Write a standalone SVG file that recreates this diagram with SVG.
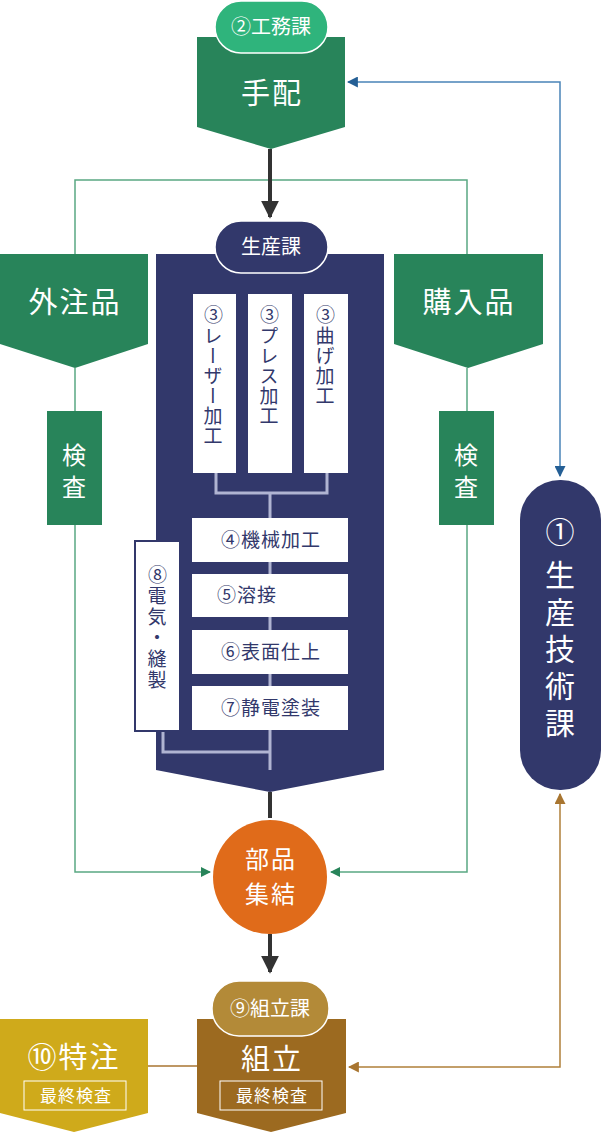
<svg xmlns="http://www.w3.org/2000/svg" width="602" height="1132" viewBox="0 0 602 1132">
<defs>
<style>
text{font-family:"Noto Sans CJK JP","Noto Sans",sans-serif;}
.big{font-size:29px;fill:#fff;text-anchor:middle;letter-spacing:2px}
.bad{font-size:20px;fill:#fff;text-anchor:middle}
.st{font-size:19px;fill:#32386b;text-anchor:middle;letter-spacing:1px}
.gl{fill:none;stroke:#5aa882;stroke-width:1.5}
.ll{fill:none;stroke:#b0b4d2;stroke-width:3}
</style>
<marker id="ag" viewBox="0 0 10 10" refX="9" refY="5" markerWidth="10" markerHeight="10" markerUnits="userSpaceOnUse" orient="auto"><path d="M0,0L10,5L0,10z" fill="#28845a"/></marker>
<marker id="ab" viewBox="0 0 10 10" refX="9" refY="5" markerWidth="11" markerHeight="11" markerUnits="userSpaceOnUse" orient="auto-start-reverse"><path d="M0,0L10,5L0,10z" fill="#245f95"/></marker>
<marker id="ao" viewBox="0 0 10 10" refX="9" refY="5" markerWidth="11" markerHeight="11" markerUnits="userSpaceOnUse" orient="auto-start-reverse"><path d="M0,0L10,5L0,10z" fill="#a87530"/></marker>
<marker id="ak" viewBox="0 0 10 10" refX="9" refY="5" markerWidth="18" markerHeight="18" markerUnits="userSpaceOnUse" orient="auto"><path d="M0,0L10,5L0,10z" fill="#333"/></marker>
</defs>
<g id="connectors">
<path class="gl" d="M75,254V180H467V254"/>
<path class="gl" d="M75,368V872H210" marker-end="url(#ag)"/>
<path class="gl" d="M467,368V872H331" marker-end="url(#ag)"/>
<path d="M560,476V82H348" fill="none" stroke="#4a84b8" stroke-width="1.5" marker-start="url(#ab)" marker-end="url(#ab)"/>
<path d="M560,794V1067H349" fill="none" stroke="#b0803a" stroke-width="1.5" marker-start="url(#ao)" marker-end="url(#ao)"/>
<path d="M270,149V217" stroke="#333" stroke-width="4" marker-end="url(#ak)"/>
<path d="M270,934V972" stroke="#333" stroke-width="4" marker-end="url(#ak)"/>
<path d="M270,792V818" stroke="#333" stroke-width="4"/>
<path d="M148,1066H197" stroke="#a87530" stroke-width="1.5"/>
</g>
<g id="tehai">
<path d="M197,37H345V127L271,149L197,127Z" fill="#28845a"/>
<rect x="215" y="1" width="113" height="52" rx="26" fill="#2fb47c" stroke="#fff" stroke-width="1.5"/>
<text class="bad" x="271" y="34">②工務課</text>
<text class="big" x="272" y="104">手配</text>
</g>
<g id="gaichu">
<path d="M0,254H148V344L75,368L0,344Z" fill="#28845a"/>
<text class="big" x="75" y="313">外注品</text>
</g>
<g id="konyu">
<path d="M394,254H543V344L468,368L394,344Z" fill="#28845a"/>
<text class="big" x="469" y="313">購入品</text>
</g>
<g id="kensa1"><rect x="47" y="411" width="55" height="114" fill="#28845a"/>
<text class="big" style="font-size:24px" x="75" y="464">検</text><text class="big" style="font-size:24px" x="75" y="496">査</text></g>
<g id="kensa2"><rect x="439" y="411" width="55" height="114" fill="#28845a"/>
<text class="big" style="font-size:24px" x="467" y="464">検</text><text class="big" style="font-size:24px" x="467" y="496">査</text></g>
<g id="seisan">
<path d="M156,254H384V770L270,792L156,770Z" fill="#32386b"/>
<path class="ll" d="M216,473V493H327V473M270,493V770M163,731V752H270"/>
<rect x="215" y="221" width="113" height="52" rx="26" fill="#32386b" stroke="#fff" stroke-width="1.5"/>
<text class="bad" x="271" y="254">生産課</text>
</g>
<g id="laser"><rect x="193" y="294" width="43" height="179" fill="#fff"/>
<text class="st" x="214" y="322">③</text>
<text class="st" x="213" y="326" style="writing-mode:vertical-rl;text-anchor:start">レーザー加工</text></g>
<g id="press"><rect x="248" y="294" width="44" height="179" fill="#fff"/>
<text class="st" x="270" y="322">③</text>
<text class="st" x="269" y="326" style="writing-mode:vertical-rl;text-anchor:start">プレス加工</text></g>
<g id="mage"><rect x="304" y="294" width="44" height="179" fill="#fff"/>
<text class="st" x="326" y="322">③</text>
<text class="st" x="325" y="326" style="writing-mode:vertical-rl;text-anchor:start">曲げ加工</text></g>
<g id="kikai"><rect x="192" y="518" width="156" height="44" fill="#fff"/><text class="st" x="271" y="547">④機械加工</text></g>
<g id="yosetsu"><rect x="192" y="574" width="156" height="43" fill="#fff"/><text class="st" x="247" y="602">⑤溶接</text></g>
<g id="hyomen"><rect x="192" y="630" width="156" height="44" fill="#fff"/><text class="st" x="271" y="659">⑥表面仕上</text></g>
<g id="seiden"><rect x="192" y="686" width="156" height="44" fill="#fff"/><text class="st" x="271" y="715">⑦静電塗装</text></g>
<g id="denki"><rect x="135" y="541" width="45" height="190" fill="#fff" stroke="#32386b" stroke-width="2"/>
<text class="st" x="158" y="582">⑧</text>
<text class="st" x="157" y="586" style="writing-mode:vertical-rl;text-anchor:start;letter-spacing:2px">電気・縫製</text></g>
<g id="shuketsu"><circle cx="270" cy="877" r="57" fill="#e06b1a"/>
<text class="big" style="font-size:24px" x="271" y="868">部品</text><text class="big" style="font-size:24px" x="271" y="903">集結</text></g>
<g id="gijutsu"><rect x="520" y="480" width="81" height="310" rx="40" fill="#32386b"/>
<text class="big" x="561" y="543">①</text>
<text class="big" x="560" y="560" style="writing-mode:vertical-rl;text-anchor:start;font-size:30px;letter-spacing:7px">生産技術課</text></g>
<g id="kumitate">
<path d="M197,1019H346V1113L271,1132L197,1113Z" fill="#9c6a20"/>
<rect x="212" y="981" width="117" height="55" rx="27" fill="#b38a38" stroke="#fff" stroke-width="1.5"/>
<text class="bad" x="270" y="1016">⑨組立課</text>
<text class="big" x="272" y="1070">組立</text>
<rect x="220" y="1081" width="102" height="29" fill="none" stroke="#fff" stroke-width="1"/>
<text class="bad" style="font-size:17px;letter-spacing:1px" x="272" y="1102">最終検査</text>
</g>
<g id="tokuchu">
<path d="M0,1019H148V1113L74,1132L0,1113Z" fill="#cfaa1b"/>
<text class="big" x="74" y="1068">⑩特注</text>
<rect x="24" y="1081" width="102" height="29" fill="none" stroke="#fff" stroke-width="1"/>
<text class="bad" style="font-size:17px;letter-spacing:1px" x="76" y="1102">最終検査</text>
</g>
</svg>
